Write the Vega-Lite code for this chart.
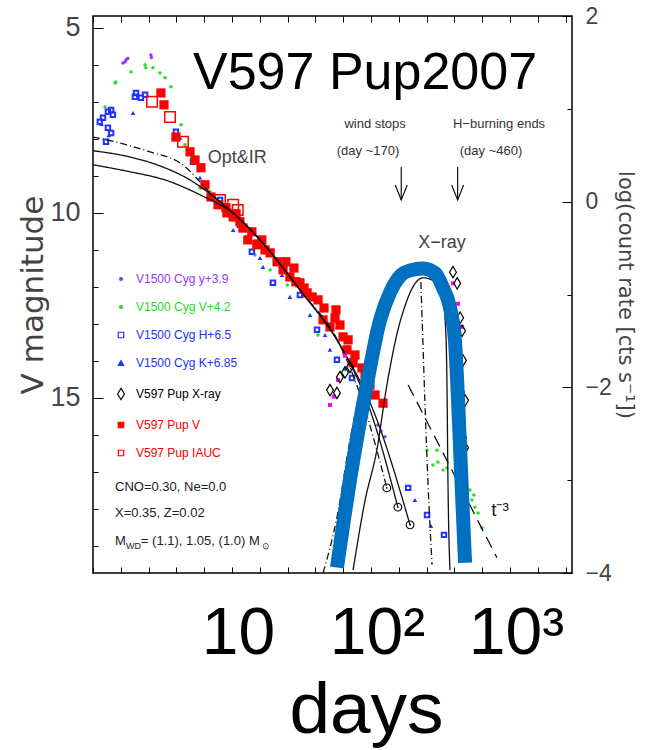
{
  "$schema": "https://vega.github.io/schema/vega-lite/v6.json",
  "width": 479,
  "height": 557,
  "autosize": "none",
  "padding": {"left": 93, "top": 16, "right": 74, "bottom": 177},
  "config": {
    "view": {"stroke": "#000", "strokeWidth": 1.5},
    "axis": {"domain": false, "grid": false, "tickColor": "#000", "tickWidth": 1, "labelColor": "#444", "titleColor": "#444", "labelFont": "Liberation Sans Narrow, Liberation Sans", "titleFont": "DejaVu Sans", "titleFontWeight": "normal"},
    "text": {"font": "Liberation Sans"}
  },
  "datasets": {
    "optical": [
      {"series": "V1500 Cyg y+3.9", "day": 1.64, "mag": 5.95},
      {"series": "V1500 Cyg y+3.9", "day": 1.70, "mag": 5.92},
      {"series": "V1500 Cyg y+3.9", "day": 1.73, "mag": 5.86},
      {"series": "V1500 Cyg y+3.9", "day": 1.78, "mag": 5.83},
      {"series": "V1500 Cyg y+3.9", "day": 2.61, "mag": 5.73},
      {"series": "V1500 Cyg y+3.9", "day": 2.63, "mag": 5.80},
      {"series": "V1500 Cyg y+3.9", "day": 112, "mag": 15.73},
      {"series": "V1500 Cyg y+3.9", "day": 118, "mag": 15.9},
      {"series": "V1500 Cyg y+3.9", "day": 126, "mag": 16.05},
      {"series": "V1500 Cyg V+4.2", "day": 1.22, "mag": 7.14},
      {"series": "V1500 Cyg V+4.2", "day": 1.44, "mag": 6.49},
      {"series": "V1500 Cyg V+4.2", "day": 1.46, "mag": 6.46},
      {"series": "V1500 Cyg V+4.2", "day": 1.88, "mag": 6.19},
      {"series": "V1500 Cyg V+4.2", "day": 2.37, "mag": 6.0},
      {"series": "V1500 Cyg V+4.2", "day": 2.40, "mag": 6.08},
      {"series": "V1500 Cyg V+4.2", "day": 2.70, "mag": 6.08},
      {"series": "V1500 Cyg V+4.2", "day": 3.03, "mag": 6.22},
      {"series": "V1500 Cyg V+4.2", "day": 3.30, "mag": 6.35},
      {"series": "V1500 Cyg V+4.2", "day": 3.64, "mag": 6.59},
      {"series": "V1500 Cyg V+4.2", "day": 4.30, "mag": 7.62},
      {"series": "V1500 Cyg V+4.2", "day": 4.59, "mag": 8.16},
      {"series": "V1500 Cyg V+4.2", "day": 5.88, "mag": 9.32},
      {"series": "V1500 Cyg V+4.2", "day": 6.95, "mag": 9.43},
      {"series": "V1500 Cyg V+4.2", "day": 8.5, "mag": 9.7},
      {"series": "V1500 Cyg V+4.2", "day": 14.6, "mag": 11.14},
      {"series": "V1500 Cyg V+4.2", "day": 18.8, "mag": 11.54},
      {"series": "V1500 Cyg V+4.2", "day": 25, "mag": 11.95},
      {"series": "V1500 Cyg V+4.2", "day": 41.6, "mag": 13.3},
      {"series": "V1500 Cyg V+4.2", "day": 65, "mag": 14.24},
      {"series": "V1500 Cyg V+4.2", "day": 253, "mag": 16.41},
      {"series": "V1500 Cyg V+4.2", "day": 298, "mag": 16.41},
      {"series": "V1500 Cyg V+4.2", "day": 303, "mag": 16.73},
      {"series": "V1500 Cyg V+4.2", "day": 279, "mag": 16.81},
      {"series": "V1500 Cyg V+4.2", "day": 330, "mag": 16.95},
      {"series": "V1500 Cyg V+4.2", "day": 352, "mag": 16.89},
      {"series": "V1500 Cyg V+4.2", "day": 515, "mag": 17.49},
      {"series": "V1500 Cyg V+4.2", "day": 533, "mag": 17.76},
      {"series": "V1500 Cyg V+4.2", "day": 550, "mag": 17.62},
      {"series": "V1500 Cyg V+4.2", "day": 560, "mag": 17.95},
      {"series": "V1500 Cyg V+4.2", "day": 589, "mag": 18.11},
      {"series": "V1500 Cyg V+4.2", "day": 629, "mag": 18.51},
      {"series": "V1500 Cyg H+6.5", "day": 1.12, "mag": 7.54},
      {"series": "V1500 Cyg H+6.5", "day": 1.18, "mag": 7.43},
      {"series": "V1500 Cyg H+6.5", "day": 1.28, "mag": 7.27},
      {"series": "V1500 Cyg H+6.5", "day": 1.35, "mag": 7.22},
      {"series": "V1500 Cyg H+6.5", "day": 1.39, "mag": 7.35},
      {"series": "V1500 Cyg H+6.5", "day": 1.28, "mag": 7.70},
      {"series": "V1500 Cyg H+6.5", "day": 1.35, "mag": 7.84},
      {"series": "V1500 Cyg H+6.5", "day": 1.24, "mag": 8.08},
      {"series": "V1500 Cyg H+6.5", "day": 2.04, "mag": 6.76},
      {"series": "V1500 Cyg H+6.5", "day": 2.00, "mag": 6.86},
      {"series": "V1500 Cyg H+6.5", "day": 2.21, "mag": 6.89},
      {"series": "V1500 Cyg H+6.5", "day": 2.37, "mag": 6.81},
      {"series": "V1500 Cyg H+6.5", "day": 3.95, "mag": 7.81},
      {"series": "V1500 Cyg H+6.5", "day": 5.24, "mag": 8.62},
      {"series": "V1500 Cyg H+6.5", "day": 8.2, "mag": 9.65},
      {"series": "V1500 Cyg H+6.5", "day": 11.4, "mag": 10.32},
      {"series": "V1500 Cyg H+6.5", "day": 13.9, "mag": 11.05},
      {"series": "V1500 Cyg H+6.5", "day": 19.7, "mag": 11.89},
      {"series": "V1500 Cyg H+6.5", "day": 30.8, "mag": 12.22},
      {"series": "V1500 Cyg H+6.5", "day": 40.9, "mag": 13.16},
      {"series": "V1500 Cyg H+6.5", "day": 56.9, "mag": 13.97},
      {"series": "V1500 Cyg H+6.5", "day": 73, "mag": 14.46},
      {"series": "V1500 Cyg H+6.5", "day": 185, "mag": 17.43},
      {"series": "V1500 Cyg H+6.5", "day": 253, "mag": 18.16},
      {"series": "V1500 Cyg H+6.5", "day": 335, "mag": 18.7},
      {"series": "V1500 Cyg K+6.85", "day": 1.15, "mag": 7.6},
      {"series": "V1500 Cyg K+6.85", "day": 1.30, "mag": 7.9},
      {"series": "V1500 Cyg K+6.85", "day": 1.94, "mag": 7.3},
      {"series": "V1500 Cyg K+6.85", "day": 4.23, "mag": 7.97},
      {"series": "V1500 Cyg K+6.85", "day": 5.88, "mag": 9.05},
      {"series": "V1500 Cyg K+6.85", "day": 6.39, "mag": 9.32},
      {"series": "V1500 Cyg K+6.85", "day": 10.2, "mag": 10.46},
      {"series": "V1500 Cyg K+6.85", "day": 15.9, "mag": 11.22},
      {"series": "V1500 Cyg K+6.85", "day": 16.7, "mag": 11.46},
      {"series": "V1500 Cyg K+6.85", "day": 22.9, "mag": 11.68},
      {"series": "V1500 Cyg K+6.85", "day": 26.1, "mag": 12.27},
      {"series": "V1500 Cyg K+6.85", "day": 36.4, "mag": 12.76},
      {"series": "V1500 Cyg K+6.85", "day": 46.7, "mag": 13.3},
      {"series": "V1500 Cyg K+6.85", "day": 50.7, "mag": 13.7},
      {"series": "V1500 Cyg K+6.85", "day": 65, "mag": 14.19},
      {"series": "V1500 Cyg K+6.85", "day": 207, "mag": 17.76},
      {"series": "V1500 Cyg K+6.85", "day": 270, "mag": 18.46},
      {"series": "V597 Pup V", "day": 3.08, "mag": 6.76},
      {"series": "V597 Pup V", "day": 3.24, "mag": 7.08},
      {"series": "V597 Pup V", "day": 3.95, "mag": 7.95},
      {"series": "V597 Pup V", "day": 4.99, "mag": 8.35},
      {"series": "V597 Pup V", "day": 5.42, "mag": 8.57},
      {"series": "V597 Pup V", "day": 5.98, "mag": 8.78},
      {"series": "V597 Pup V", "day": 6.39, "mag": 9.24},
      {"series": "V597 Pup V", "day": 7.06, "mag": 9.57},
      {"series": "V597 Pup V", "day": 7.93, "mag": 9.78},
      {"series": "V597 Pup V", "day": 9.05, "mag": 9.86},
      {"series": "V597 Pup V", "day": 9.2, "mag": 10.0},
      {"series": "V597 Pup V", "day": 10.2, "mag": 10.11},
      {"series": "V597 Pup V", "day": 10.7, "mag": 10.03},
      {"series": "V597 Pup V", "day": 11.4, "mag": 10.24},
      {"series": "V597 Pup V", "day": 12.0, "mag": 10.41},
      {"series": "V597 Pup V", "day": 13.0, "mag": 10.73},
      {"series": "V597 Pup V", "day": 13.9, "mag": 10.51},
      {"series": "V597 Pup V", "day": 15.1, "mag": 10.86},
      {"series": "V597 Pup V", "day": 15.4, "mag": 10.84},
      {"series": "V597 Pup V", "day": 16.4, "mag": 10.73},
      {"series": "V597 Pup V", "day": 17.3, "mag": 11.0},
      {"series": "V597 Pup V", "day": 18.8, "mag": 11.08},
      {"series": "V597 Pup V", "day": 21.1, "mag": 11.32},
      {"series": "V597 Pup V", "day": 23.3, "mag": 11.54},
      {"series": "V597 Pup V", "day": 24.4, "mag": 11.32},
      {"series": "V597 Pup V", "day": 26.1, "mag": 11.73},
      {"series": "V597 Pup V", "day": 27.9, "mag": 11.49},
      {"series": "V597 Pup V", "day": 28.8, "mag": 11.86},
      {"series": "V597 Pup V", "day": 30.8, "mag": 11.89},
      {"series": "V597 Pup V", "day": 33.0, "mag": 12.03},
      {"series": "V597 Pup V", "day": 34.7, "mag": 12.16},
      {"series": "V597 Pup V", "day": 37.7, "mag": 12.27},
      {"series": "V597 Pup V", "day": 41.6, "mag": 12.35},
      {"series": "V597 Pup V", "day": 45.2, "mag": 12.89},
      {"series": "V597 Pup V", "day": 45.9, "mag": 12.57},
      {"series": "V597 Pup V", "day": 50.7, "mag": 13.08},
      {"series": "V597 Pup V", "day": 55.1, "mag": 12.84},
      {"series": "V597 Pup V", "day": 56, "mag": 12.62},
      {"series": "V597 Pup V", "day": 59.8, "mag": 13.03},
      {"series": "V597 Pup V", "day": 62.9, "mag": 13.35},
      {"series": "V597 Pup V", "day": 67.2, "mag": 13.7},
      {"series": "V597 Pup V", "day": 68.4, "mag": 13.43},
      {"series": "V597 Pup V", "day": 74.3, "mag": 14.05},
      {"series": "V597 Pup V", "day": 76.7, "mag": 13.84},
      {"series": "V597 Pup V", "day": 86.1, "mag": 14.19},
      {"series": "V597 Pup V", "day": 90.6, "mag": 14.38},
      {"series": "V597 Pup V", "day": 98.4, "mag": 14.65},
      {"series": "V597 Pup V", "day": 107, "mag": 14.92},
      {"series": "V597 Pup V", "day": 122, "mag": 15.14},
      {"series": "V597 Pup IAUC", "day": 2.66, "mag": 7.0},
      {"series": "V597 Pup IAUC", "day": 3.58, "mag": 7.41},
      {"series": "V597 Pup IAUC", "day": 4.44, "mag": 8.08},
      {"series": "V597 Pup IAUC", "day": 8.2, "mag": 9.65},
      {"series": "V597 Pup IAUC", "day": 10.2, "mag": 9.78},
      {"series": "V597 Pup IAUC", "day": 11.0, "mag": 9.92}
    ],
    "models": [
      {"model": "M1.10", "day": 1.0, "mag": 7.95},
      {"model": "M1.10", "day": 1.56, "mag": 8.11},
      {"model": "M1.10", "day": 2.57, "mag": 8.35},
      {"model": "M1.10", "day": 4.23, "mag": 8.65},
      {"model": "M1.10", "day": 7.55, "mag": 9.59},
      {"model": "M1.10", "day": 10.5, "mag": 10.05},
      {"model": "M1.10", "day": 15.9, "mag": 10.73},
      {"model": "M1.10", "day": 30.8, "mag": 12.08},
      {"model": "M1.10", "day": 59.8, "mag": 13.57},
      {"model": "M1.10", "day": 86.1, "mag": 15.05},
      {"model": "M1.10", "day": 130, "mag": 17.43},
      {"model": "M1.05", "day": 1.0, "mag": 8.32},
      {"model": "M1.05", "day": 1.85, "mag": 8.49},
      {"model": "M1.05", "day": 3.03, "mag": 8.73},
      {"model": "M1.05", "day": 4.99, "mag": 9.11},
      {"model": "M1.05", "day": 7.55, "mag": 9.59},
      {"model": "M1.05", "day": 10.5, "mag": 10.05},
      {"model": "M1.05", "day": 15.9, "mag": 10.73},
      {"model": "M1.05", "day": 30.8, "mag": 12.08},
      {"model": "M1.05", "day": 59.8, "mag": 13.57},
      {"model": "M1.05", "day": 98.4, "mag": 15.32},
      {"model": "M1.05", "day": 156, "mag": 17.95},
      {"model": "M1.00", "day": 1.0, "mag": 8.7},
      {"model": "M1.00", "day": 1.85, "mag": 8.89},
      {"model": "M1.00", "day": 3.3, "mag": 9.11},
      {"model": "M1.00", "day": 5.88, "mag": 9.51},
      {"model": "M1.00", "day": 10.5, "mag": 10.05},
      {"model": "M1.00", "day": 15.9, "mag": 10.73},
      {"model": "M1.00", "day": 30.8, "mag": 12.08},
      {"model": "M1.00", "day": 59.8, "mag": 13.57},
      {"model": "M1.00", "day": 107, "mag": 15.46},
      {"model": "M1.00", "day": 191, "mag": 18.43},
      {"model": "t-3", "day": 185, "mag": 14.65},
      {"model": "t-3", "day": 806, "mag": 19.32}
    ],
    "windstop": [
      {"model": "M1.10", "day": 130, "mag": 17.43},
      {"model": "M1.05", "day": 156, "mag": 17.95},
      {"model": "M1.00", "day": 191, "mag": 18.43}
    ],
    "xray": [
      {"series": "V597 Pup X-ray", "day": 50.7, "lc": -2.03},
      {"series": "V597 Pup X-ray", "day": 56.9, "lc": -2.06},
      {"series": "V597 Pup X-ray", "day": 59.8, "lc": -1.89},
      {"series": "V597 Pup X-ray", "day": 65, "lc": -1.84},
      {"series": "V597 Pup X-ray", "day": 70.6, "lc": -1.78},
      {"series": "V597 Pup X-ray", "day": 389, "lc": -0.76},
      {"series": "V597 Pup X-ray", "day": 417, "lc": -0.88},
      {"series": "V597 Pup X-ray", "day": 438, "lc": -1.25},
      {"series": "V597 Pup X-ray", "day": 452, "lc": -1.39},
      {"series": "V597 Pup X-ray", "day": 459, "lc": -1.71},
      {"series": "V597 Pup X-ray", "day": 475, "lc": -2.14},
      {"series": "V597 Pup X-ray", "day": 459, "lc": -2.54},
      {"series": "V597 Pup X-ray", "day": 475, "lc": -2.65}
    ],
    "xray2": [
      {"day": 50.7, "lc": -2.19},
      {"day": 54, "lc": -2.1},
      {"day": 57.9, "lc": -1.92},
      {"day": 65, "lc": -1.66},
      {"day": 389, "lc": -0.88},
      {"day": 423, "lc": -1.1},
      {"day": 452, "lc": -1.35},
      {"day": 459, "lc": -2.06}
    ],
    "xmodels": [
      {"model": "M1.05", "day": 74.3, "lc": -3.97},
      {"model": "M1.05", "day": 90.6, "lc": -3.22},
      {"model": "M1.05", "day": 110, "lc": -2.68},
      {"model": "M1.05", "day": 130, "lc": -1.98},
      {"model": "M1.05", "day": 154, "lc": -1.42},
      {"model": "M1.05", "day": 176, "lc": -1.12},
      {"model": "M1.05", "day": 200, "lc": -0.92},
      {"model": "M1.05", "day": 237, "lc": -0.82},
      {"model": "M1.05", "day": 279, "lc": -0.85},
      {"model": "M1.05", "day": 330, "lc": -1.06},
      {"model": "M1.05", "day": 347, "lc": -1.49},
      {"model": "M1.05", "day": 352, "lc": -1.96},
      {"model": "M1.05", "day": 358, "lc": -3.03},
      {"model": "M1.05", "day": 370, "lc": -3.97},
      {"model": "M1.10", "day": 45.2, "lc": -4.0},
      {"model": "M1.10", "day": 56.9, "lc": -3.4},
      {"model": "M1.10", "day": 70.6, "lc": -2.57},
      {"model": "M1.10", "day": 103, "lc": -1.49},
      {"model": "M1.10", "day": 122, "lc": -1.14},
      {"model": "M1.10", "day": 149, "lc": -0.83},
      {"model": "M1.10", "day": 190, "lc": -0.7},
      {"model": "M1.10", "day": 225, "lc": -0.69},
      {"model": "M1.10", "day": 233, "lc": -1.25},
      {"model": "M1.10", "day": 244, "lc": -2.14},
      {"model": "M1.10", "day": 257, "lc": -3.03},
      {"model": "M1.10", "day": 275, "lc": -3.91}
    ],
    "highlight": [
      {"day": 56.9, "lc": -3.94},
      {"day": 70.6, "lc": -3.0},
      {"day": 93.6, "lc": -1.96},
      {"day": 116, "lc": -1.28},
      {"day": 137, "lc": -0.98},
      {"day": 162, "lc": -0.8},
      {"day": 191, "lc": -0.74},
      {"day": 237, "lc": -0.72},
      {"day": 289, "lc": -0.77},
      {"day": 330, "lc": -0.93},
      {"day": 370, "lc": -1.14},
      {"day": 402, "lc": -1.5},
      {"day": 423, "lc": -2.14},
      {"day": 444, "lc": -2.89},
      {"day": 475, "lc": -3.89}
    ]
  },
  "layer": [
    {
      "encoding": {
        "x": {"field": "day", "type": "quantitative", "scale": {"type": "log", "domain": [1, 2793], "nice": false},
          "axis": {"orient": "bottom", "values": [1, 1.58489, 2.51189, 3.98107, 6.30957, 10, 15.8489, 25.1189, 39.8107, 63.0957, 100, 158.489, 251.189, 398.107, 630.957, 1000, 1584.89, 2511.89],
            "tickSize": -6, "labelExpr": "datum.value === 10 ? '10' : datum.value === 100 ? '10²' : datum.value === 1000 ? '10³' : ''",
            "labelFont": "Liberation Sans", "labelFontSize": 66, "labelColor": "#000", "labelPadding": 34, "labelOffset": 6, "labelOverlap": false, "labelFlush": false, "labelBound": false,
            "title": "days", "titleFont": "Liberation Sans", "titleFontSize": 73, "titleColor": "#000", "titlePadding": 8, "titleX": 273}},
        "y": {"field": "mag", "type": "quantitative", "scale": {"domain": [4.68, 19.73], "reverse": true, "nice": false, "zero": false},
          "axis": {"orient": "left", "values": [5, 6, 7, 8, 9, 10, 11, 12, 13, 14, 15, 16, 17, 18, 19],
            "tickSize": {"condition": {"test": "datum.value % 5 === 0", "value": -10}, "value": -5},
            "labelExpr": "datum.value % 5 === 0 ? datum.label : ''", "labelFontSize": 27, "labelPadding": 23, "labelOverlap": false,
            "title": "V magnitude", "titleFontSize": 31, "titlePadding": 0}}
      },
      "layer": [
        {
          "data": {"name": "optical"},
          "transform": [{"filter": "datum.series === 'V1500 Cyg y+3.9'"}],
          "mark": {"type": "point", "filled": true, "size": 12, "opacity": 1},
          "encoding": {
            "color": {"field": "series", "type": "nominal",
              "scale": {"domain": ["V1500 Cyg y+3.9", "V1500 Cyg V+4.2", "V1500 Cyg H+6.5", "V1500 Cyg K+6.85", "V597 Pup X-ray", "V597 Pup V", "V597 Pup IAUC"],
                "range": ["#9933ff", "#22dd22", "#2233ff", "#2233ff", "#000000", "#ff0000", "#ff0000"]},
              "legend": {"title": null, "orient": "none", "legendX": 22, "legendY": 257, "padding": 0, "rowPadding": 16, "labelOffset": 9,
                "labelFont": "Liberation Sans", "labelFontSize": 12, "symbolSize": 30, "symbolOpacity": 1, "symbolStrokeWidth": 1.2,
                "encode": {
                  "symbols": {"update": {
                    "shape": {"signal": "scale('shape', datum.value)"},
                    "fill": {"signal": "scale('color', datum.value)"},
                    "fillOpacity": {"signal": "indexof(['V1500 Cyg H+6.5','V597 Pup X-ray','V597 Pup IAUC'], datum.value) >= 0 ? 0 : 1"},
                    "stroke": {"signal": "scale('color', datum.value)"},
                    "size": {"signal": "datum.value === 'V597 Pup X-ray' ? 130 : (datum.value === 'V1500 Cyg y+3.9' || datum.value === 'V1500 Cyg V+4.2') ? 8 : 30"}
                  }},
                  "labels": {"update": {"fill": {"signal": "scale('color', datum.value)"}}}
                }}},
            "shape": {"field": "series", "type": "nominal",
              "scale": {"domain": ["V1500 Cyg y+3.9", "V1500 Cyg V+4.2", "V1500 Cyg H+6.5", "V1500 Cyg K+6.85", "V597 Pup X-ray", "V597 Pup V", "V597 Pup IAUC"],
                "range": ["circle", "circle", "square", "triangle-up", "M0,-1L0.6,0L0,1L-0.6,0Z", "square", "square"]},
              "legend": null}
          }
        },
        {
          "data": {"name": "optical"},
          "transform": [{"filter": "datum.series === 'V1500 Cyg V+4.2'"}],
          "mark": {"type": "point", "filled": true, "size": 12, "opacity": 1},
          "encoding": {"color": {"field": "series", "type": "nominal", "legend": null}, "shape": {"field": "series", "type": "nominal", "legend": null}}
        },
        {
          "data": {"name": "optical"},
          "transform": [{"filter": "datum.series === 'V1500 Cyg H+6.5'"}],
          "mark": {"type": "point", "filled": false, "size": 20, "strokeWidth": 2, "opacity": 1},
          "encoding": {"color": {"field": "series", "type": "nominal", "legend": null}, "shape": {"field": "series", "type": "nominal", "legend": null}}
        },
        {
          "data": {"name": "optical"},
          "transform": [{"filter": "datum.series === 'V1500 Cyg K+6.85'"}],
          "mark": {"type": "point", "filled": true, "size": 22, "opacity": 1},
          "encoding": {"color": {"field": "series", "type": "nominal", "legend": null}, "shape": {"field": "series", "type": "nominal", "legend": null}}
        },
        {
          "data": {"name": "optical"},
          "transform": [{"filter": "datum.series === 'V597 Pup V'"}],
          "mark": {"type": "point", "filled": true, "size": 85, "opacity": 1},
          "encoding": {"color": {"field": "series", "type": "nominal", "legend": null}, "shape": {"field": "series", "type": "nominal", "legend": null}}
        },
        {
          "data": {"name": "optical"},
          "transform": [{"filter": "datum.series === 'V597 Pup IAUC'"}],
          "mark": {"type": "point", "filled": false, "size": 110, "strokeWidth": 1.5, "opacity": 1},
          "encoding": {"color": {"field": "series", "type": "nominal", "legend": null}, "shape": {"field": "series", "type": "nominal", "legend": null}}
        },
        {
          "data": {"name": "models"},
          "mark": {"type": "line", "color": "#111", "strokeWidth": 1.3, "interpolate": "monotone"},
          "encoding": {"strokeDash": {"field": "model", "type": "nominal",
            "scale": {"domain": ["M1.10", "M1.05", "M1.00", "t-3"], "range": [[7, 3, 1, 3], [1, 0], [1, 0], [12, 7]]}, "legend": null}}
        },
        {
          "data": {"name": "windstop"},
          "mark": {"type": "point", "shape": "circle", "filled": false, "size": 60, "color": "#111", "strokeWidth": 1.2, "opacity": 1},
          "encoding": {}
        },
        {
          "data": {"name": "windstop"},
          "mark": {"type": "point", "shape": "circle", "filled": true, "size": 3, "color": "#111", "opacity": 1},
          "encoding": {}
        },
        {
          "data": {"values": [
            {"event": "wind stops", "day": 165, "mag": 8.76, "mag2": 9.65},
            {"event": "H-burning ends", "day": 420, "mag": 8.76, "mag2": 9.65}
          ]},
          "layer": [
            {"mark": {"type": "rule", "color": "#111", "strokeWidth": 1.2}, "encoding": {"y2": {"field": "mag2"}}},
            {"mark": {"type": "point", "shape": "M-0.4,-1L0,0L0.4,-1", "filled": false, "size": 900, "color": "#111", "strokeWidth": 1.2, "opacity": 1},
              "encoding": {"y": {"field": "mag2", "type": "quantitative"}}}
          ]
        },
        {
          "data": {"values": [{"label": "V597 Pup2007", "day": 90.6, "mag": 6.22}]},
          "mark": {"type": "text", "fontSize": 52, "color": "#000", "align": "center", "baseline": "middle"},
          "encoding": {"text": {"field": "label"}}
        },
        {
          "data": {"values": [
            {"label": "Opt&IR", "day": 10.9, "mag": 8.51},
            {"label": "X−ray", "day": 324, "mag": 10.81}
          ]},
          "mark": {"type": "text", "fontSize": 18, "color": "#444", "align": "center", "baseline": "middle"},
          "encoding": {"text": {"field": "label"}}
        },
        {
          "data": {"values": [
            {"label": "wind stops", "day": 107, "mag": 7.59},
            {"label": "(day ~170)", "day": 95.2, "mag": 8.32},
            {"label": "H−burning ends", "day": 834, "mag": 7.59},
            {"label": "(day ~460)", "day": 730, "mag": 8.32}
          ]},
          "mark": {"type": "text", "fontSize": 13, "color": "#333", "align": "center", "baseline": "middle"},
          "encoding": {"text": {"field": "label"}}
        },
        {
          "data": {"values": [{"label": "t⁻³", "day": 847, "mag": 18.03}]},
          "mark": {"type": "text", "fontSize": 19, "color": "#222", "align": "center", "baseline": "middle"},
          "encoding": {"text": {"field": "label"}}
        },
        {
          "data": {"values": [
            {"label": "CNO=0.30, Ne=0.0", "day": 1.44, "mag": 17.41},
            {"label": "X=0.35, Z=0.02", "day": 1.44, "mag": 18.11},
            {"label": "M", "day": 1.44, "mag": 18.86},
            {"label": "= (1.1), 1.05, (1.0) M", "day": 2.21, "mag": 18.86}
          ]},
          "mark": {"type": "text", "fontSize": 13, "color": "#222", "align": "left", "baseline": "middle"},
          "encoding": {"text": {"field": "label"}}
        },
        {
          "data": {"values": [
            {"label": "WD", "day": 1.73, "mag": 18.86},
            {"label": "⊙", "day": 16.4, "mag": 18.86}
          ]},
          "mark": {"type": "text", "fontSize": 9, "color": "#222", "align": "left", "baseline": "middle", "dy": 5},
          "encoding": {"text": {"field": "label"}}
        }
      ]
    },
    {
      "encoding": {
        "x": {"field": "day", "type": "quantitative", "scale": {"type": "log", "domain": [1, 2793], "nice": false},
          "axis": {"orient": "top", "values": [1, 1.58489, 2.51189, 3.98107, 6.30957, 10, 15.8489, 25.1189, 39.8107, 63.0957, 100, 158.489, 251.189, 398.107, 630.957, 1000, 1584.89, 2511.89],
            "tickSize": -6, "labels": false, "title": null}},
        "y": {"field": "lc", "type": "quantitative", "scale": {"domain": [-4, 2], "nice": false, "zero": false},
          "axis": {"orient": "right", "values": [-4, -3, -2, -1, 0, 1, 2],
            "tickSize": {"condition": {"test": "datum.value % 2 === 0", "value": -10}, "value": -5},
            "labelExpr": "datum.value % 2 === 0 ? datum.label : ''", "labelFontSize": 23, "labelPadding": 23, "labelOverlap": false, "labelFlush": false,
            "title": "log(count rate [cts s⁻¹])", "titleFontSize": 21, "titlePadding": 3}}
      },
      "layer": [
        {
          "data": {"name": "xmodels"},
          "mark": {"type": "line", "color": "#111", "strokeWidth": 1.3, "interpolate": "monotone"},
          "encoding": {"strokeDash": {"field": "model", "type": "nominal", "legend": null}}
        },
        {
          "data": {"name": "xray2"},
          "mark": {"type": "point", "shape": "square", "filled": true, "size": 16, "color": "#ff00ff", "opacity": 1},
          "encoding": {}
        },
        {
          "data": {"name": "xray"},
          "mark": {"type": "point", "filled": false, "size": 130, "strokeWidth": 1.2, "opacity": 1},
          "encoding": {"color": {"field": "series", "type": "nominal", "legend": null}, "shape": {"field": "series", "type": "nominal", "legend": null}}
        },
        {
          "data": {"name": "highlight"},
          "mark": {"type": "line", "color": "#0070c0", "strokeWidth": 14, "interpolate": "monotone", "strokeCap": "butt", "strokeJoin": "round"},
          "encoding": {}
        }
      ]
    }
  ],
  "resolve": {"scale": {"y": "independent"}, "axis": {"x": "independent", "y": "independent"}}
}
